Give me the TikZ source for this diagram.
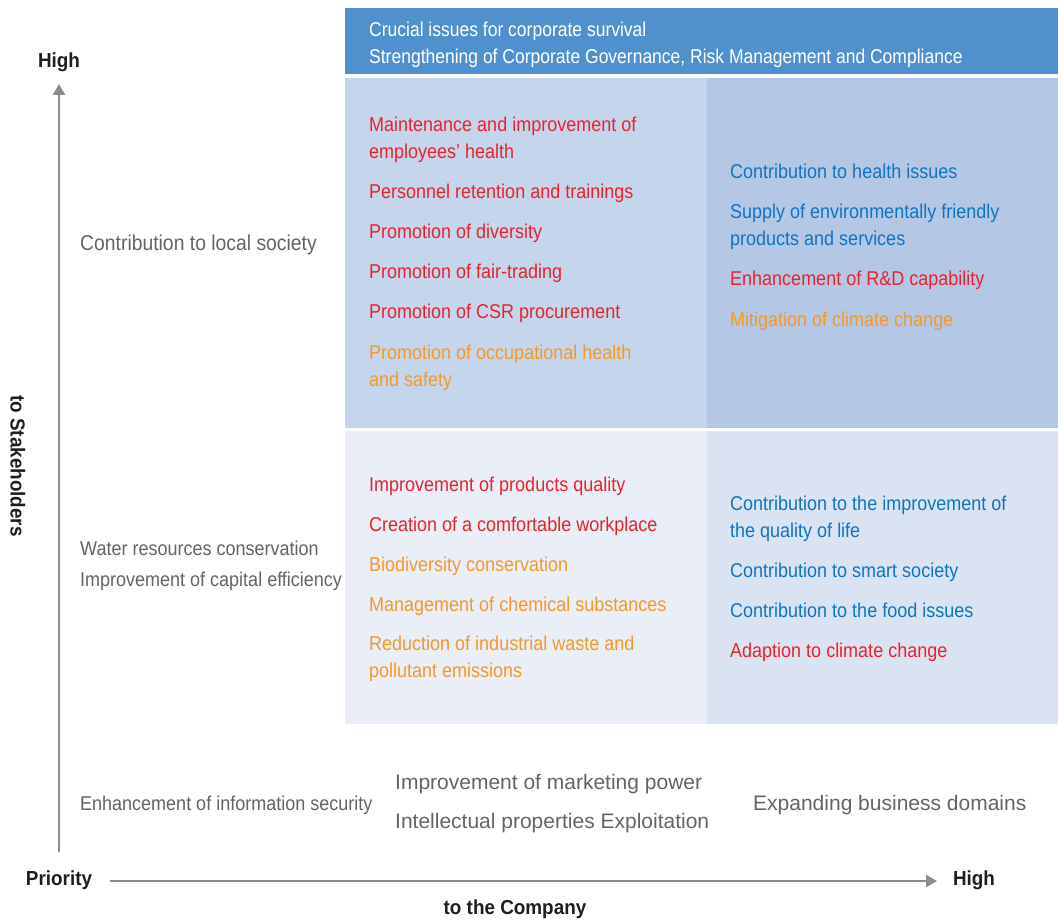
\documentclass[tikz,border=0pt]{standalone}
\usepackage{fontspec}
\setmainfont{Liberation Sans}
\newfontfamily\cond{Liberation Sans}[FakeStretch=0.9]
\newfontfamily\condb{Liberation Sans}[FakeStretch=0.875]
\newfontfamily\plain{Liberation Sans}
\newfontfamily\labfont{Liberation Sans}[FakeStretch=0.93]
\usetikzlibrary{arrows.meta}
\definecolor{barblue}{RGB}{80,145,205}
\definecolor{qul}{RGB}{197,213,236}
\definecolor{qur}{RGB}{180,200,229}
\definecolor{qll}{RGB}{233,238,247}
\definecolor{qlr}{RGB}{217,227,242}
\definecolor{tred}{RGB}{232,34,46}
\definecolor{tblue}{RGB}{16,116,192}
\definecolor{torange}{RGB}{245,152,40}
\definecolor{tgray}{RGB}{100,100,100}
\definecolor{axisgray}{RGB}{140,140,140}
\definecolor{labk}{RGB}{30,30,30}
\begin{document}
\begin{tikzpicture}[x=1pt,y=-1pt,
  txt/.style={anchor=base west, inner sep=0pt, align=left, font=\cond\fontsize{20}{27}\selectfont},
  red/.style={txt, text=tred},
  blu/.style={txt, text=tblue},
  ora/.style={txt, text=torange},
  gry/.style={txt, text=tgray},
  gryw/.style={anchor=base west, inner sep=0pt, text=tgray, font=\plain\fontsize{21}{27}\selectfont},
  wht/.style={anchor=base west, inner sep=0pt, text=white, font=\condb\fontsize{20}{27}\selectfont},
  lab/.style={inner sep=0pt, text=labk, font=\labfont\bfseries\fontsize{20.3}{24}\selectfont},
  axis/.style={draw=axisgray, line width=2.5pt, -{Triangle[width=12pt,length=11pt]}}
]
\useasboundingbox (0,0) rectangle (1058,920);
% panels
\fill[barblue] (345,8) rectangle (1058,74);
\fill[qul] (345,78) rectangle (707,428);
\fill[qur] (707,78) rectangle (1058,428);
\fill[qll] (345,431) rectangle (707,724);
\fill[qlr] (707,431) rectangle (1058,724);
% top bar
\node[wht] (crucial) at (369,37) {Crucial issues for corporate survival};
\node[wht] (govern) at (369,64) {Strengthening of Corporate Governance, Risk Management and Compliance};
% upper left (multi-line nodes placed at the baseline of their last line)
\node[red] (ul1) at (369,159) {Maintenance and improvement of\\employees’ health};
\node[red] (ul2) at (369,199) {Personnel retention and trainings};
\node[red] (ul3) at (369,239) {Promotion of diversity};
\node[red] (ul4) at (369,279) {Promotion of fair-trading};
\node[red] (ul5) at (369,319) {Promotion of CSR procurement};
\node[ora] (ul6) at (369,386) {Promotion of occupational health\\and safety};
% upper right
\node[blu] (ur1) at (730,179) {Contribution to health issues};
\node[blu] (ur2) at (730,246) {Supply of environmentally friendly\\products and services};
\node[red] (ur3) at (730,286) {Enhancement of R\&D capability};
\node[ora] (ur4) at (730,326) {Mitigation of climate change};
% lower left
\node[red] (ll1) at (369,491) {Improvement of products quality};
\node[red] (ll2) at (369,531) {Creation of a comfortable workplace};
\node[ora] (ll3) at (369,571) {Biodiversity conservation};
\node[ora] (ll4) at (369,611) {Management of chemical substances};
\node[ora] (ll5) at (369,677) {Reduction of industrial waste and\\pollutant emissions};
% lower right
\node[blu] (lr1) at (730,537) {Contribution to the improvement of\\the quality of life};
\node[blu] (lr2) at (730,577) {Contribution to smart society};
\node[blu] (lr3) at (730,617) {Contribution to the food issues};
\node[red] (lr4) at (730,657) {Adaption to climate change};
% left column
\node[gry, font=\cond\fontsize{21.5}{27}\selectfont] (lc1) at (80,251) {Contribution to local society};
\node[gry] (lc2) at (80,555) {Water resources conservation};
\node[gry] (lc3) at (80,586) {Improvement of capital efficiency};
\node[gry] (lc4) at (80,810) {Enhancement of information security};
% bottom row
\node[gryw] (b1) at (395,789) {Improvement of marketing power};
\node[gryw] (b2) at (395,828) {Intellectual properties Exploitation};
\node[gryw] (b3) at (753,810) {Expanding business domains};
% axes
\coordinate (vstart) at (59,852);
\coordinate (vend) at (59,84);
\coordinate (hstart) at (110,881);
\coordinate (hend) at (937,881);
\draw[axis] (vstart) -- (vend);
\draw[axis] (hstart) -- (hend);
\node[lab] (yhigh) at (59,62) {High};
\node[lab] (ylab) at (18,466) [rotate=-90] {to Stakeholders};
\node[lab] (prio) at (59,880) {Priority};
\node[lab] (xhigh) at (974,880) {High};
\node[lab] (xlab) at (515,909) {to the Company};
\end{tikzpicture}
\end{document}
